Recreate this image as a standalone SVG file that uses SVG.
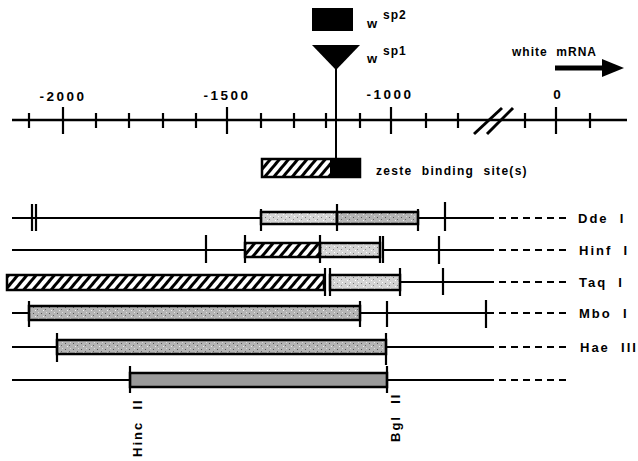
<svg xmlns="http://www.w3.org/2000/svg" width="638" height="461" viewBox="0 0 638 461">
<style>
text{font-family:"Liberation Sans",Arial,sans-serif;font-weight:bold;fill:#000;white-space:pre}
.lab{font-size:13px;letter-spacing:2px}
.num{font-size:13.5px;letter-spacing:2.5px;text-anchor:middle}
.ln{stroke:#000;stroke-width:2;fill:none}
.tk{stroke:#000;stroke-width:2.2;fill:none}
.ax{stroke:#000;stroke-width:2.6;fill:none}
.dash{stroke:#000;stroke-width:2;stroke-dasharray:7 5;fill:none}
.bx{stroke:#000;stroke-width:2.5}
</style>
<defs>
<pattern id="hatch" patternUnits="userSpaceOnUse" width="7" height="7" patternTransform="rotate(40)">
<rect width="7" height="7" fill="#fff"/>
<rect width="3" height="7" fill="#000"/>
</pattern>
<pattern id="stip" patternUnits="userSpaceOnUse" width="8" height="6">
<rect width="8" height="6" fill="#d4d4d4"/>
<rect x="1" y="1" width="1" height="1" fill="#777"/>
<rect x="5" y="3" width="1" height="1" fill="#888"/>
<rect x="3" y="4" width="1" height="1" fill="#fff"/>
<rect x="6" y="0" width="1" height="1" fill="#fff"/>
</pattern>
<pattern id="stipD" patternUnits="userSpaceOnUse" width="8" height="6">
<rect width="8" height="6" fill="#b4b4b4"/>
<rect x="1" y="1" width="1" height="1" fill="#555"/>
<rect x="5" y="3" width="1" height="1" fill="#666"/>
<rect x="3" y="4" width="1" height="1" fill="#eee"/>
<rect x="6" y="0" width="1" height="1" fill="#ddd"/>
</pattern>
</defs>
<rect width="638" height="461" fill="#fff"/>

<g id="wsp2">
<rect x="312" y="8" width="41" height="23" fill="#000"/>
<text x="367" y="28" style="font-size:13px">w</text>
<text x="383" y="19" style="font-size:12px;letter-spacing:1px">sp2</text>
</g>
<g id="wsp1">
<polygon points="312,45 360,45 336,70" fill="#000"/>
<line x1="336" y1="68" x2="336" y2="160" class="ln"/>
<text x="367" y="63" style="font-size:13px">w</text>
<text x="383" y="55" style="font-size:12px;letter-spacing:1px">sp1</text>
</g>
<g id="white-mrna">
<text x="512" y="56" class="lab" style="font-size:12px;letter-spacing:1px">white  mRNA</text>
<line x1="555" y1="68" x2="604" y2="68" stroke="#000" stroke-width="5"/>
<polygon points="602,59 624,68 602,77" fill="#000"/>
</g>

<g id="axis">
<line x1="12" y1="120" x2="627" y2="120" class="ax"/>
<g class="tk">
<line x1="29" y1="113" x2="29" y2="128"/>
<line x1="63" y1="107" x2="63" y2="134"/>
<line x1="96" y1="113" x2="96" y2="128"/>
<line x1="129" y1="113" x2="129" y2="128"/>
<line x1="163" y1="113" x2="163" y2="128"/>
<line x1="196" y1="113" x2="196" y2="128"/>
<line x1="227" y1="107" x2="227" y2="134"/>
<line x1="261" y1="113" x2="261" y2="128"/>
<line x1="294" y1="113" x2="294" y2="128"/>
<line x1="326" y1="113" x2="326" y2="128"/>
<line x1="360" y1="113" x2="360" y2="128"/>
<line x1="391" y1="107" x2="391" y2="134"/>
<line x1="426" y1="113" x2="426" y2="128"/>
<line x1="458" y1="113" x2="458" y2="128"/>
<line x1="525" y1="113" x2="525" y2="128"/>
<line x1="556" y1="107" x2="556" y2="134"/>
<line x1="590" y1="113" x2="590" y2="128"/>
</g>
<line x1="474" y1="134" x2="502" y2="108" stroke="#000" stroke-width="3"/>
<line x1="487" y1="134" x2="513" y2="108" stroke="#000" stroke-width="3"/>
<text x="63" y="101" class="num">-2000</text>
<text x="227" y="100" class="num">-1500</text>
<text x="390" y="99" class="num">-1000</text>
<text x="557" y="99" class="num" style="letter-spacing:0">0</text>
</g>

<g id="zeste">
<rect x="262" y="159" width="98" height="18" fill="url(#hatch)" class="bx"/>
<rect x="330" y="159" width="30" height="18" fill="#000"/>
<text x="376" y="175" class="lab" style="font-size:12px;letter-spacing:1.3px">zeste  binding  site(s)</text>
</g>

<g id="row-dde">
<line x1="12" y1="218" x2="261" y2="218" class="ln"/>
<line x1="32" y1="204" x2="32" y2="231" class="tk"/>
<line x1="36" y1="204" x2="36" y2="231" class="tk"/>
<rect x="261" y="212" width="76" height="12" fill="url(#stip)" class="bx"/>
<rect x="337" y="212" width="81" height="12" fill="url(#stipD)" class="bx"/>
<line x1="261" y1="209" x2="261" y2="231" class="tk"/>
<line x1="337" y1="204" x2="337" y2="231" class="tk"/>
<line x1="418" y1="209" x2="418" y2="231" class="tk"/>
<line x1="418" y1="218" x2="487" y2="218" class="ln"/>
<line x1="445" y1="202" x2="445" y2="231" class="tk"/>
<line x1="487" y1="218" x2="567" y2="218" class="dash"/>
<text x="578" y="223" class="lab">Dde  I</text>
</g>

<g id="row-hinf">
<line x1="12" y1="250" x2="245" y2="250" class="ln"/>
<line x1="206" y1="235" x2="206" y2="263" class="tk"/>
<rect x="245" y="243" width="75" height="14" fill="url(#hatch)" class="bx"/>
<rect x="320" y="243" width="60" height="14" fill="url(#stip)" class="bx"/>
<line x1="245" y1="235" x2="245" y2="263" class="tk"/>
<line x1="320" y1="235" x2="320" y2="263" class="tk"/>
<line x1="380" y1="236" x2="380" y2="263" class="tk"/>
<line x1="383" y1="236" x2="383" y2="263" class="tk"/>
<line x1="383" y1="250" x2="487" y2="250" class="ln"/>
<line x1="439" y1="236" x2="439" y2="264" class="tk"/>
<line x1="487" y1="250" x2="567" y2="250" class="dash"/>
<text x="579" y="255" class="lab">Hinf  I</text>
</g>

<g id="row-taq">
<rect x="7" y="275" width="317" height="15" fill="url(#hatch)" class="bx"/>
<line x1="325" y1="268" x2="325" y2="296" class="tk"/>
<rect x="330" y="275" width="70" height="15" fill="url(#stip)" class="bx"/>
<line x1="330" y1="268" x2="330" y2="296" class="tk"/>
<line x1="400" y1="268" x2="400" y2="296" class="tk"/>
<line x1="400" y1="282" x2="487" y2="282" class="ln"/>
<line x1="443" y1="268" x2="443" y2="295" class="tk"/>
<line x1="487" y1="282" x2="567" y2="282" class="dash"/>
<text x="579" y="287" class="lab">Taq  I</text>
</g>

<g id="row-mbo">
<line x1="12" y1="313" x2="29" y2="313" class="ln"/>
<rect x="29" y="306" width="331" height="14" fill="url(#stipD)" class="bx"/>
<line x1="29" y1="301" x2="29" y2="327" class="tk"/>
<line x1="360" y1="301" x2="360" y2="327" class="tk"/>
<line x1="360" y1="313" x2="486" y2="313" class="ln"/>
<line x1="387" y1="301" x2="387" y2="327" class="tk"/>
<line x1="486" y1="300" x2="486" y2="328" class="tk"/>
<line x1="487" y1="313" x2="567" y2="313" class="dash"/>
<text x="579" y="318" class="lab">Mbo  I</text>
</g>

<g id="row-hae">
<line x1="12" y1="347" x2="57" y2="347" class="ln"/>
<rect x="57" y="340" width="329" height="14" fill="url(#stipD)" class="bx"/>
<line x1="57" y1="333" x2="57" y2="362" class="tk"/>
<line x1="386" y1="333" x2="386" y2="365" class="tk"/>
<line x1="386" y1="347" x2="487" y2="347" class="ln"/>
<line x1="487" y1="347" x2="567" y2="347" class="dash"/>
<text x="580" y="352" class="lab">Hae  III</text>
</g>

<g id="row-hinc-bgl">
<line x1="12" y1="380" x2="130" y2="380" class="ln"/>
<rect x="130" y="373" width="257" height="14" fill="url(#stipD)" class="bx" style="fill:#9a9a9a"/>
<line x1="130" y1="366" x2="130" y2="393" class="tk"/>
<line x1="387" y1="366" x2="387" y2="393" class="tk"/>
<line x1="387" y1="380" x2="487" y2="380" class="ln"/>
<line x1="487" y1="380" x2="567" y2="380" class="dash"/>
<text x="142" y="457" class="lab" transform="rotate(-90 142 457)">Hinc  II</text>
<text x="400" y="442" class="lab" transform="rotate(-90 400 442)">Bgl  II</text>
</g>
</svg>
